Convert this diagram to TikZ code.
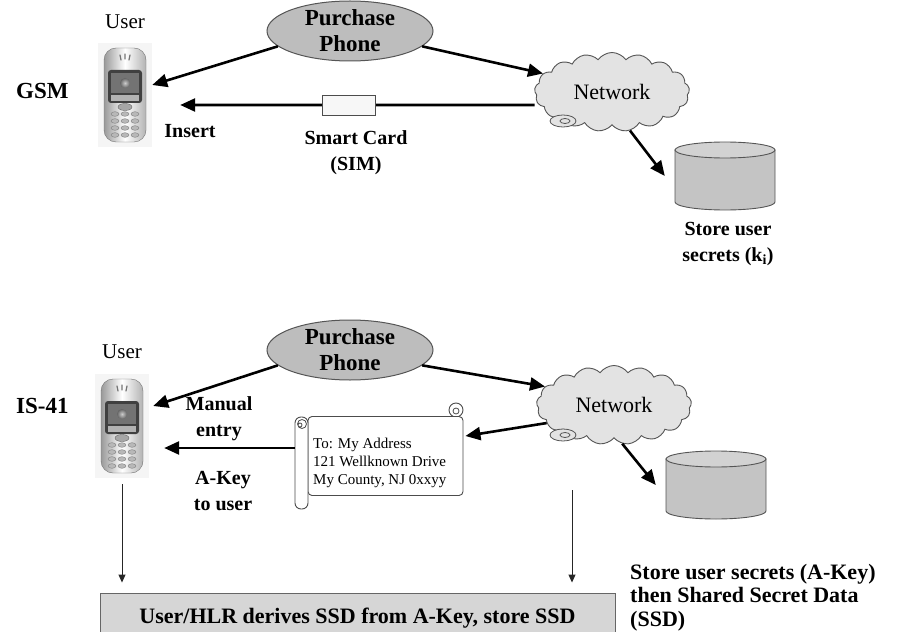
\documentclass[tikz,border=0pt]{standalone}
\usepackage{fontspec}
\setmainfont{Liberation Serif}
\usetikzlibrary{arrows.meta,shapes.geometric,shapes.symbols,calc}
\definecolor{ovalgray}{HTML}{BDBDBD}
\definecolor{cloudgray}{HTML}{E3E3E3}
\definecolor{diskside}{HTML}{C4C4C4}
\definecolor{disktop}{HTML}{D2D2D2}
\definecolor{edgegray}{HTML}{555555}
\definecolor{boxgray}{HTML}{D6D6D6}
\tikzset{
  buyoval/.style={ellipse,draw=edgegray,fill=ovalgray,line width=1pt,minimum width=166,minimum height=60,
    inner xsep=0pt,inner ysep=-8pt,align=center,font=\bfseries\fontsize{23}{26}\selectfont},
  netcloud/.style={cloud,cloud puffs=17,cloud puff arc=110,aspect=2,draw=edgegray,fill=cloudgray,
    line width=0.9pt,minimum width=155,minimum height=79,inner sep=0pt,font=\fontsize{22}{26}\selectfont},
  fatarrow/.style={line width=2.6pt,-{Triangle[length=15pt,width=13pt]}},
  thinarrow/.style={line width=0.9pt,black!85,-{Triangle[length=8pt,width=7pt]}},
  boldtag/.style={font=\bfseries\fontsize{20}{26}\selectfont,align=center,inner sep=0pt},
  bigtag/.style={font=\bfseries\fontsize{22}{23.5}\selectfont,align=left,inner sep=0pt},
  sidetag/.style={font=\bfseries\fontsize{23}{26}\selectfont,inner sep=0pt},
  usertag/.style={font=\fontsize{21}{24}\selectfont,inner sep=0pt},
  simcard/.style={draw=black!70,fill=black!3,line width=0.9pt,minimum width=53,minimum height=20,inner sep=0pt},
  letterbody/.style={draw=black!70,fill=white,line width=0.9pt,rounded corners=4pt,minimum width=155,minimum height=79,inner sep=0pt},
  letterroll/.style={draw=black!70,fill=white,line width=0.9pt,rounded corners=6pt,minimum width=13,minimum height=92,inner sep=0pt},
  addrtext/.style={font=\fontsize{15}{18}\selectfont,align=left,inner sep=0pt},
  ssdbox/.style={draw=black!60,fill=boxgray,line width=0.9pt,minimum width=515,minimum height=50,inner sep=0pt,
    font=\bfseries\fontsize{22}{24}\selectfont}
}
\newcommand{\handset}[3]{%
  \begin{scope}[shift={(#2,#3)}]
    \fill[black!4] (-27,-52) rectangle (27,52);
    \shadedraw[draw=black!55,rounded corners=12pt,left color=black!40,right color=black!30,middle color=white] (-21,-47) rectangle (21,47);
    \draw[black!55,line width=1.2pt,line cap=round] (-5,-40) -- (-4,-35) (0,-41) -- (0,-36) (5,-40) -- (4,-35);
    \fill[black!75,rounded corners=3pt] (-17,-25) rectangle (17,8);
    \fill[black!55] (-14,-22) rectangle (14,-2);
    \shade[inner color=black!20,outer color=black!60] (0,-12) circle (5pt);
    \fill[black!30] (-14,0) rectangle (14,6);
    \filldraw[fill=black!35,draw=black!60] (0,12) ellipse (7pt and 3.5pt);
    \foreach \krow in {0,...,3}
      \foreach \kcol in {-1,0,1}
        \filldraw[fill=black!28,draw=black!50] (\kcol*10,19+\krow*7) ellipse (4pt and 2.3pt);
  \end{scope}
  \node[minimum width=46,minimum height=96,inner sep=0pt] (#1) at (#2,#3) {};
}
\newcommand{\storedisk}[3]{%
  \filldraw[fill=diskside,draw=edgegray,line width=0.9pt] (#2-50,#3-26) -- (#2-50,#3+26)
    arc[start angle=180,end angle=360,x radius=50pt,y radius=8pt] -- (#2+50,#3-26) -- cycle;
  \filldraw[fill=disktop,draw=edgegray,line width=0.9pt] (#2,#3-26) ellipse [x radius=50pt,y radius=8pt];
  \node[minimum width=100,minimum height=68,inner sep=0pt] (#1) at (#2,#3) {};
}
\newcommand{\tagdisc}[2]{%
  \filldraw[fill=cloudgray,draw=edgegray,line width=0.8pt] (#1,#2) ellipse (13pt and 6pt);
  \draw[edgegray,line width=0.8pt] (#1+2,#2) ellipse (5pt and 2.5pt);
}

\begin{document}
\begin{tikzpicture}[x=1pt,y=-1pt]
  \clip (0,0) rectangle (901,631);

  % GSM
  \node[sidetag,anchor=west] (gsmtag) at (16,91) {GSM};
  \node[usertag] (user1) at (125,22) {User};
  \handset{phone1}{125}{95}
  \node[buyoval] (buy1) at (350,31) {Purchase\\Phone};
  \node[netcloud] (net1) at (612,92) {Network};
  \tagdisc{563}{121}
  \storedisk{db1}{725}{176}
  \node[boldtag] (secret1) at (728,244) {Store user\\secrets (k\textsubscript{i})};
  \draw[fatarrow] (buy1.192) -- ([xshift=4pt,yshift=10pt]phone1.east);
  \draw[fatarrow] (buy1.-12) -- (net1.165);
  \draw[fatarrow] ([yshift=-13pt]net1.west) -- ([xshift=32pt,yshift=-10pt]phone1.east);
  \draw[fatarrow] (net1.-65) -- ([xshift=-10pt]db1.west);
  \node[simcard] (sim) at (348.5,105) {};
  \node[boldtag] (insert) at (190,131) {Insert};
  \node[boldtag] (simtag) at (356,153) {Smart Card\\(SIM)};

  % IS-41
  \node[sidetag,anchor=west] (istag) at (16,406) {IS-41};
  \node[usertag] (user2) at (122,352) {User};
  \handset{phone2}{122}{426}
  \node[buyoval] (buy2) at (350,350) {Purchase\\Phone};
  \node[netcloud] (net2) at (614,405) {Network};
  \tagdisc{563}{435}
  \storedisk{db2}{716}{485}
  \filldraw[fill=white,draw=black!70,line width=0.9pt] (456,410) circle (7pt);
  \draw[black!70,line width=0.8pt] (456,411) circle (3pt);
  \node[letterbody] (letter) at (385.5,456) {};
  \node[letterroll] (roll) at (301.5,463) {};
  \draw[black!70,line width=0.8pt] (302,424) circle (4.5pt) (300,425) circle (2pt);
  \node[addrtext,anchor=west] (addr) at (313,463) {To: My Address\\121 Wellknown Drive\\My County, NJ 0xxyy};
  \draw[fatarrow] (buy2.192) -- ([xshift=8pt,yshift=20pt]phone2.east);
  \draw[fatarrow] (buy2.-12) -- (net2.165);
  \draw[fatarrow] (net2.195) -- ([xshift=2pt,yshift=20pt]letter.east);
  \draw[fatarrow] ([yshift=15pt]roll.west) -- ([xshift=19pt,yshift=-22pt]phone2.east);
  \draw[fatarrow] (net2.-78) -- ([xshift=-10pt]db2.west);
  \node[boldtag] (manual) at (219,419) {Manual\\entry};
  \node[boldtag] (akey) at (223,491) {A-Key\\to user};
  \node[ssdbox] (ssdbox) at (357.5,618) {User/HLR derives SSD from A-Key, store SSD};
  \draw[thinarrow,shorten <=10pt,shorten >=10pt] (phone2.south) -- (phone2.south |- ssdbox.north);
  \coordinate (netfoot) at (572,490);
  \draw[thinarrow,shorten >=10pt] (netfoot) -- (netfoot |- ssdbox.north);
  \node[bigtag,anchor=north west] (ssdtag) at (630,564) {Store user secrets (A-Key)\\then Shared Secret Data\\(SSD)};
\end{tikzpicture}
\end{document}
